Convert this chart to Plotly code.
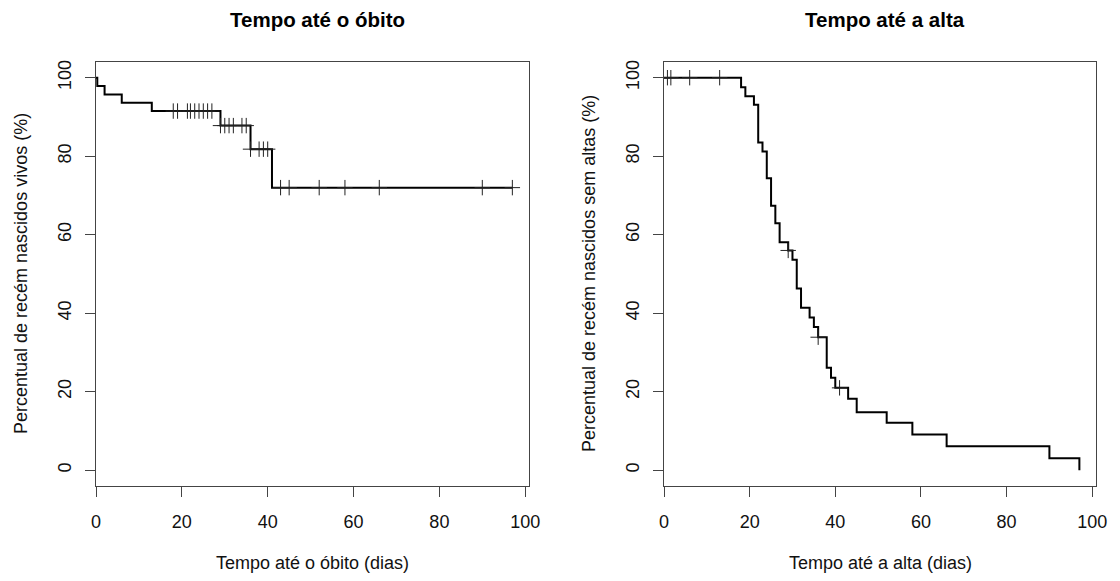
import plotly.graph_objects as go

# ---- Data ----
# Left: Kaplan-Meier, time to death
obito_tempo = [0, 0.3, 2, 6, 13, 29, 36, 41, 97]
obito_surv = [100, 97.9, 95.7, 93.6, 91.5, 87.8, 81.8, 72.0, 72.0]
obito_cens_tempo = [18, 19, 21.3, 22, 23, 24, 25, 26, 27,
                    29, 30, 31, 32, 34, 35,
                    36, 38, 39, 40,
                    43, 45, 52, 58, 66, 90, 97]

# Right: Kaplan-Meier, time to discharge
alta_tempo = [0, 18, 19, 21, 22, 23, 24, 25, 26, 27, 29, 30, 31, 32, 34, 35,
              36, 38, 39, 40, 43, 45, 52, 58, 66, 90, 97]
alta_surv = [100, 97.6, 95.3, 93.1, 83.5, 81.2, 74.4, 67.4, 62.9, 58.1, 56.0,
             53.6, 46.3, 41.4, 38.9, 36.5, 33.9, 26.1, 23.6, 21.0, 18.2, 14.8,
             12.1, 9.1, 6.1, 3.1, 0.0]
alta_cens_tempo = [0.8, 1.6, 6, 13, 29, 36, 41]

x_ticks = [0, 20, 40, 60, 80, 100]
y_ticks = [0, 20, 40, 60, 80, 100]

titles = ["Tempo até o óbito", "Tempo até a alta"]
x_titles = ["Tempo até o óbito (dias)", "Tempo até a alta (dias)"]
y_titles = ["Percentual de recém nascidos vivos (%)",
            "Percentual de recém nascidos sem altas (%)"]


def step_value(times, surv, t):
    v = surv[0]
    for ti, si in zip(times, surv):
        if ti <= t:
            v = si
    return v


OFF = 8  # default page body margin
W, H = 1120 - OFF, 581 - OFF
FONT = "Liberation Sans, Arial, Helvetica, sans-serif"
AX = "#444444"

# plot regions in screen pixels
panels = [(96, 529), (664, 1096)]
y_top, y_bot = 62, 486


def px(x):
    return (x - OFF) / W


def py(y):
    return 1 - (y - OFF) / H


fig = go.Figure()

series = [(obito_tempo, obito_surv, obito_cens_tempo),
          (alta_tempo, alta_surv, alta_cens_tempo)]

for i, (tt, ss, ct) in enumerate(series):
    xa = "x" if i == 0 else "x2"
    ya = "y" if i == 0 else "y2"
    fig.add_trace(go.Scatter(
        x=tt, y=ss, mode="lines", line=dict(color="black", width=2, shape="hv"),
        xaxis=xa, yaxis=ya, showlegend=False, hoverinfo="skip"))
    cs = [step_value(tt, ss, t) for t in ct]
    fig.add_trace(go.Scatter(
        x=ct, y=cs, mode="markers",
        marker=dict(symbol="cross-thin", size=11,
                    line=dict(color="#222222", width=1)),
        xaxis=xa, yaxis=ya, showlegend=False, hoverinfo="skip"))

xmax = 97 * 1.04
axis_common = dict(
    showline=True, linecolor=AX, linewidth=1, mirror=True,
    ticks="outside", ticklen=10, tickwidth=1, tickcolor=AX,
    showgrid=False, zeroline=False, automargin=False,
    tickfont=dict(family=FONT, size=18, color="#111111"),
)

layout = dict(
    width=W, height=H, margin=dict(l=0, r=0, t=0, b=0),
    paper_bgcolor="white", plot_bgcolor="white",
    showlegend=False,
)

ydom = [py(y_bot), py(y_top)]
for i, (x0, x1) in enumerate(panels):
    sfx = "" if i == 0 else "2"
    layout["xaxis" + sfx] = dict(
        axis_common, domain=[px(x0), px(x1)], range=[0, xmax],
        tickvals=x_ticks, ticktext=[str(v) for v in x_ticks],
        ticklabelstandoff=9,
        anchor="y" + sfx)
    layout["yaxis" + sfx] = dict(
        axis_common, domain=ydom, range=[-4, 104],
        tickvals=y_ticks, ticktext=[str(v) for v in y_ticks],
        tickangle=-90, ticklabelstandoff=7,
        anchor="x" + sfx)

fig.update_layout(**layout)

annotations = []
for i, (x0, x1) in enumerate(panels):
    cx = px((x0 + x1) / 2)
    annotations.append(dict(
        text="<b>" + titles[i] + "</b>", x=px((x0 + x1) / 2 + 5), y=py(19),
        xref="paper", yref="paper", xanchor="center", yanchor="middle",
        showarrow=False, font=dict(family=FONT, size=20.5, color="black")))
    annotations.append(dict(
        text=x_titles[i], x=cx, y=py(563),
        xref="paper", yref="paper", xanchor="center", yanchor="middle",
        showarrow=False, font=dict(family=FONT, size=18, color="#111111")))
    annotations.append(dict(
        text=y_titles[i], x=px(x0 - 75), y=py((y_top + y_bot) / 2),
        xref="paper", yref="paper", xanchor="center", yanchor="middle",
        textangle=-90,
        showarrow=False, font=dict(family=FONT, size=18, color="#111111")))

fig.update_layout(annotations=annotations)

fig.write_html("out.html")
